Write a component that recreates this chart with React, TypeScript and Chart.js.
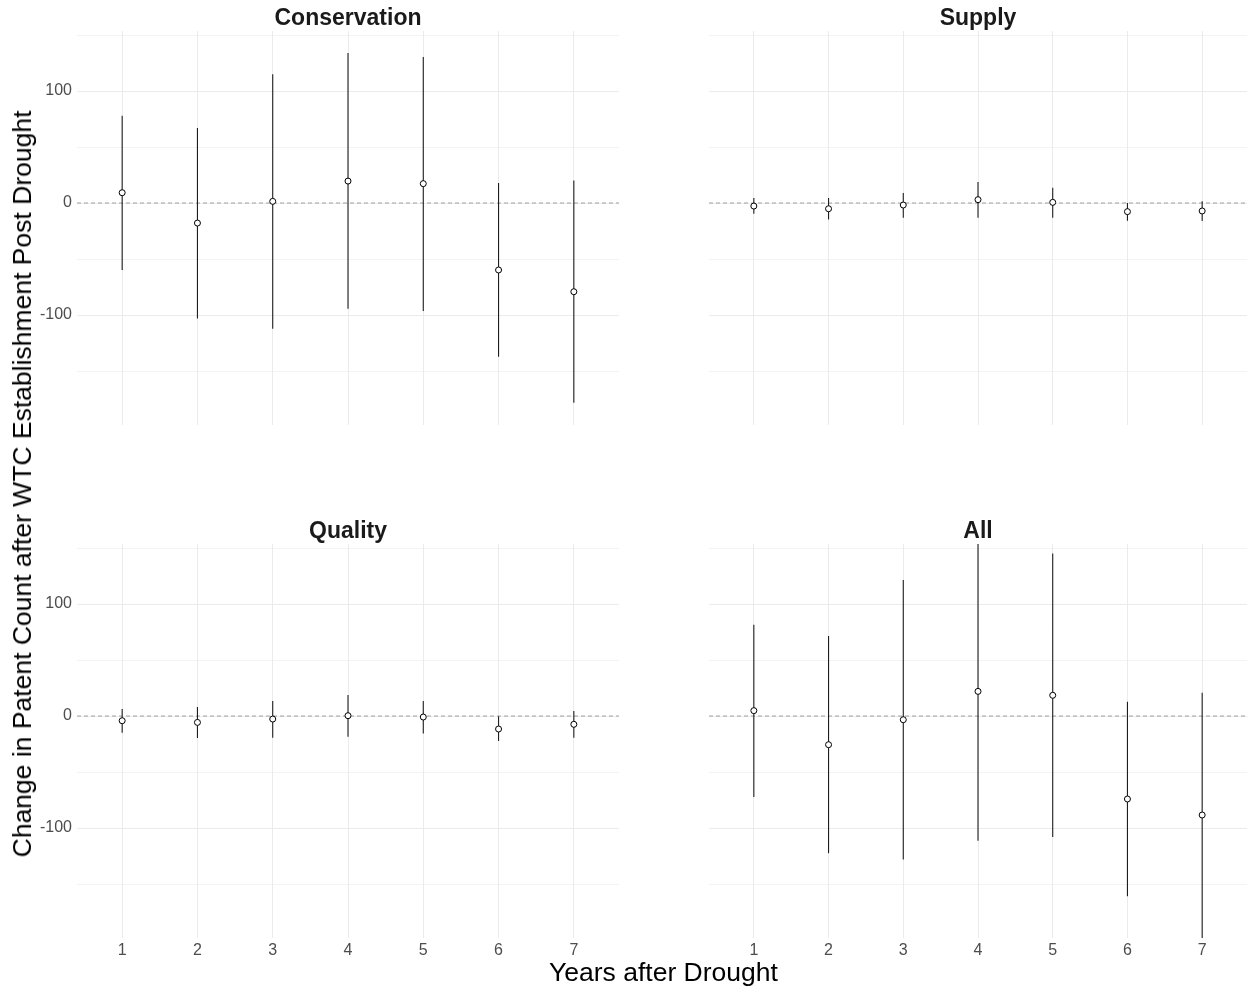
import React, { useEffect, useRef } from "react";
import { Chart, registerables } from "chart.js";

Chart.register(...registerables);

// Years after the drought (shared x values for every facet)
const years = [1, 2, 3, 4, 5, 6, 7];

// Conservation patents: point estimate and 95% interval
const conservationEst = [9.2, -17.9, 1.5, 19.6, 17.3, -59.8, -79.2];
const conservationLow = [-59.8, -103, -112.2, -94.3, -96.4, -137.2, -178.3];
const conservationHigh = [78, 67, 114.9, 133.9, 130.4, 17.9, 20.2];

// Supply patents
const supplyEst = [-2.7, -5.1, -1.8, 3.0, 0.6, -7.7, -7.1];
const supplyLow = [-9.5, -14.6, -13.1, -13.1, -13.1, -15.8, -16.1];
const supplyHigh = [4.5, 4.5, 8.9, 18.8, 13.7, 0, 1.5];

// Quality patents
const qualityEst = [-4.2, -5.7, -2.7, 0.3, -0.9, -11.6, -7.4];
const qualityLow = [-14.9, -19.6, -19.3, -18.5, -15.5, -22.3, -19.3];
const qualityHigh = [6.3, 8.0, 13.4, 18.8, 13.4, -0.3, 4.5];

// All patents
const allEst = [4.8, -25.6, -3.3, 22.0, 18.5, -74.1, -88.4];
const allLow = [-72.3, -122.6, -128.0, -111.3, -108.0, -161.0, -205];
const allHigh = [81.5, 71.4, 121.4, 160, 145.2, 12.8, 20.8];

// Shared y axis
const yGridValues = [-150, -100, -50, 0, 50, 100, 150];
const yLabelValues = [-100, 0, 100];
const yMin = -198.2;
const yMax = 153.6;
const xMin = 0.4;
const xMax = 7.6;

const FONT = '"Liberation Sans", Arial, "DejaVu Sans", sans-serif';

type PanelProps = {
  title: string;
  est: number[];
  low: number[];
  high: number[];
  left: number;
  top: number;
  width: number;
  height: number;
  padTop: number;
  padRight: number;
  yAxisWidth: number;
  xAxisHeight: number;
  showYLabels: boolean;
  showXLabels: boolean;
};

const stripTitle = {
  id: "stripTitle",
  afterDraw(chart: any, _args: any, opts: any) {
    const { ctx, chartArea } = chart;
    ctx.save();
    ctx.font = `bold 23px ${FONT}`;
    ctx.fillStyle = "#1a1a1a";
    ctx.textAlign = "center";
    ctx.textBaseline = "alphabetic";
    ctx.fillText(opts.text, (chartArea.left + chartArea.right) / 2, chartArea.top - 6);
    ctx.restore();
  },
};

function Panel(p: PanelProps) {
  const ref = useRef<HTMLCanvasElement | null>(null);

  useEffect(() => {
    if (!ref.current) return;

    const points = years.map((x, i) => ({ x, y: p.est[i] }));
    const bars: { x: number; y: number | null }[] = [];
    years.forEach((x, i) => {
      bars.push({ x, y: p.low[i] });
      bars.push({ x, y: p.high[i] });
      bars.push({ x, y: null });
    });
    const zero = [
      { x: xMin, y: 0 },
      { x: xMax, y: 0 },
    ];

    const chart = new Chart(ref.current, {
      type: "scatter",
      data: {
        datasets: [
          {
            data: points,
            pointRadius: 3,
            pointHoverRadius: 3,
            pointBackgroundColor: "#ffffff",
            pointBorderColor: "#000000",
            pointBorderWidth: 1,
            showLine: false,
            order: 0,
          },
          {
            data: bars as any,
            showLine: true,
            spanGaps: false,
            pointRadius: 0,
            borderColor: "#1e1e1e",
            borderWidth: 1.1,
            order: 1,
          },
          {
            data: zero,
            showLine: true,
            pointRadius: 0,
            borderColor: "#a0a0a0",
            borderWidth: 1,
            borderDash: [4, 3],
            order: 2,
          },
        ],
      },
      options: {
        responsive: false,
        animation: false,
        events: [],
        layout: { padding: { top: p.padTop, right: p.padRight, left: 0, bottom: 0 } },
        plugins: {
          legend: { display: false },
          tooltip: { enabled: false },
          title: { display: false },
          stripTitle: { text: p.title },
        } as any,
        scales: {
          x: {
            type: "linear",
            min: xMin,
            max: xMax,
            border: { display: false },
            grid: { color: "#ebebeb", lineWidth: 1, drawTicks: false },
            ticks: {
              display: p.showXLabels,
              autoSkip: false,
              maxRotation: 0,
              padding: 3,
              color: "#4d4d4d",
              font: { family: FONT, size: 16 },
              callback: (v: any) => String(v),
            },
            afterBuildTicks: (scale: any) => {
              scale.ticks = years.map((v) => ({ value: v }));
            },
            afterFit: (scale: any) => {
              scale.height = p.xAxisHeight;
              scale.paddingLeft = 0;
              scale.paddingRight = 0;
            },
          },
          y: {
            type: "linear",
            min: yMin,
            max: yMax,
            border: { display: false },
            grid: {
              color: "#ebebeb",
              drawTicks: false,
              lineWidth: (ctx: any) =>
                yLabelValues.includes(ctx.tick?.value) ? 1 : 0.55,
            },
            ticks: {
              display: p.showYLabels,
              autoSkip: false,
              padding: 5,
              color: "#4d4d4d",
              font: { family: FONT, size: 16 },
              callback: (v: any) => (yLabelValues.includes(v) ? String(v) : ""),
            },
            afterBuildTicks: (scale: any) => {
              scale.ticks = yGridValues.map((v) => ({ value: v }));
            },
            afterFit: (scale: any) => {
              scale.width = p.yAxisWidth;
              scale.paddingTop = 0;
              scale.paddingBottom = 0;
            },
          },
        },
      },
      plugins: [stripTitle as any],
    });

    return () => chart.destroy();
  }, []);

  return (
    <canvas
      ref={ref}
      width={p.width}
      height={p.height}
      style={{ position: "absolute", left: p.left, top: p.top, width: p.width, height: p.height }}
    />
  );
}

export default function App() {
  return (
    <div
      style={{
        position: "absolute",
        left: 0,
        top: 0,
        width: 1251,
        height: 990,
        background: "#ffffff",
        overflow: "hidden",
        fontFamily: FONT,
      }}
    >
      <Panel
        title="Conservation"
        est={conservationEst}
        low={conservationLow}
        high={conservationHigh}
        left={0}
        top={0}
        width={625}
        height={430}
        padTop={31}
        padRight={6}
        yAxisWidth={77}
        xAxisHeight={5}
        showYLabels={true}
        showXLabels={false}
      />
      <Panel
        title="Supply"
        est={supplyEst}
        low={supplyLow}
        high={supplyHigh}
        left={640}
        top={0}
        width={611}
        height={430}
        padTop={31}
        padRight={1}
        yAxisWidth={69}
        xAxisHeight={5}
        showYLabels={false}
        showXLabels={false}
      />
      <Panel
        title="Quality"
        est={qualityEst}
        low={qualityLow}
        high={qualityHigh}
        left={0}
        top={514}
        width={625}
        height={476}
        padTop={30}
        padRight={6}
        yAxisWidth={77}
        xAxisHeight={52}
        showYLabels={true}
        showXLabels={true}
      />
      <Panel
        title="All"
        est={allEst}
        low={allLow}
        high={allHigh}
        left={640}
        top={514}
        width={611}
        height={476}
        padTop={30}
        padRight={1}
        yAxisWidth={69}
        xAxisHeight={52}
        showYLabels={false}
        showXLabels={true}
      />
      <div
        style={{
          position: "absolute",
          left: 0,
          width: 1251,
          top: 957,
          textAlign: "center",
          paddingLeft: 76,
          boxSizing: "border-box",
          fontSize: 26.5,
          lineHeight: "30px",
          color: "#000000",
          whiteSpace: "nowrap",
        }}
      >
        Years after Drought
      </div>
      <div
        style={{
          position: "absolute",
          left: 22,
          top: 484,
          width: 0,
          height: 0,
        }}
      >
        <div
          style={{
            position: "absolute",
            left: 0,
            top: 0,
            transform: "translate(-50%, -50%) rotate(-90deg)",
            fontSize: 26.5,
            lineHeight: "30px",
            color: "#000000",
            whiteSpace: "nowrap",
          }}
        >
          Change in Patent Count after WTC Establishment Post Drought
        </div>
      </div>
    </div>
  );
}
